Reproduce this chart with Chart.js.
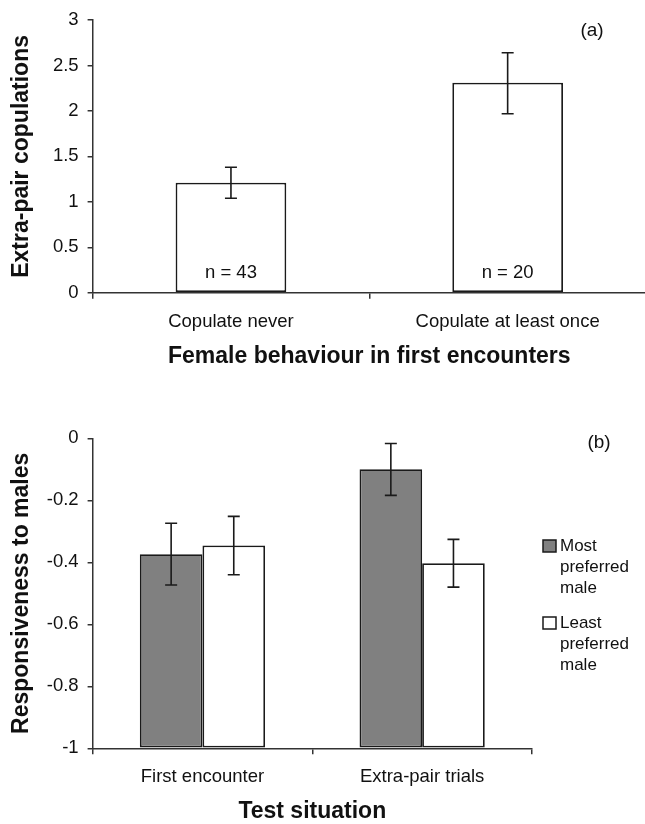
<!DOCTYPE html>
<html>
<head>
<meta charset="utf-8">
<script src="https://cdn.jsdelivr.net/npm/chart.js@4.4.0/dist/chart.umd.min.js"></script>
<style>
  html, body { margin: 0; padding: 0; background: #fff; overflow: hidden; width: 645px; height: 824px; }
  #chartA { position: absolute; left: 0; top: 0; }
  #chartB { position: absolute; left: 0; top: 380px; }
</style>
</head>
<body>
<canvas id="chartA" width="660" height="380"></canvas>
<canvas id="chartB" width="645" height="470"></canvas>
<script>
// panel (a): extra-pair copulations by first-encounter behaviour
const behaviourCats = ['Copulate never', 'Copulate at least once'];
const epcMeans = [1.21, 2.31];
const epcLow = [1.04, 1.97];
const epcHigh = [1.38, 2.64];
const sampleSizes = ['n = 43', 'n = 20'];
const epcTicks = [0, 0.5, 1, 1.5, 2, 2.5, 3];

// panel (b): responsiveness to most / least preferred male
const situationCats = ['First encounter', 'Extra-pair trials'];
const seriesNames = ['Most preferred male', 'Least preferred male'];
const mostMeans = [-0.374, -0.100];
const mostLow = [-0.473, -0.184];
const mostHigh = [-0.274, -0.017];
const leastMeans = [-0.346, -0.403];
const leastLow = [-0.440, -0.480];
const leastHigh = [-0.252, -0.326];
const respTicks = [0, -0.2, -0.4, -0.6, -0.8, -1];

const FONT = 'Liberation Sans, Arial, sans-serif';
const INK = '#111';
const LINE = '#333';

// draws the error bars from errLow / errHigh on each dataset
const errorBars = {
  id: 'errorBars',
  afterDatasetsDraw(chart) {
    const ctx = chart.ctx;
    const y = chart.scales.y;
    chart.data.datasets.forEach((ds, i) => {
      chart.getDatasetMeta(i).data.forEach((bar, j) => {
        const yl = y.getPixelForValue(ds.errLow[j]);
        const yh = y.getPixelForValue(ds.errHigh[j]);
        ctx.save();
        ctx.strokeStyle = '#1a1a1a';
        ctx.lineWidth = 1.6;
        ctx.beginPath();
        ctx.moveTo(bar.x, yl); ctx.lineTo(bar.x, yh);
        ctx.moveTo(bar.x - 6, yl); ctx.lineTo(bar.x + 6, yl);
        ctx.moveTo(bar.x - 6, yh); ctx.lineTo(bar.x + 6, yh);
        ctx.stroke();
        ctx.restore();
      });
    });
  }
};

const panelLabel = {
  id: 'panelLabel',
  afterDraw(chart, args, opts) {
    const ctx = chart.ctx;
    ctx.save();
    ctx.fillStyle = INK;
    ctx.font = '19px ' + FONT;
    ctx.textAlign = 'center';
    ctx.textBaseline = 'middle';
    ctx.fillText(opts.text, opts.x, opts.y);
    ctx.restore();
  }
};

const sampleLabels = {
  id: 'sampleLabels',
  afterDatasetsDraw(chart, args, opts) {
    if (!opts.labels) return;
    const ctx = chart.ctx;
    const base = chart.scales.y.getPixelForValue(0);
    ctx.save();
    ctx.fillStyle = INK;
    ctx.font = '18.5px ' + FONT;
    ctx.textAlign = 'center';
    ctx.textBaseline = 'middle';
    chart.getDatasetMeta(0).data.forEach((bar, j) => {
      ctx.fillText(opts.labels[j], bar.x, base - 20);
    });
    ctx.restore();
  }
};

// legend with one word per line, like the original
const wordLegend = {
  id: 'wordLegend',
  afterDraw(chart, args, opts) {
    if (!opts.show) return;
    const ctx = chart.ctx;
    let top = opts.y;
    ctx.save();
    ctx.font = '17px ' + FONT;
    ctx.textBaseline = 'middle';
    ctx.textAlign = 'left';
    chart.data.datasets.forEach(ds => {
      ctx.fillStyle = ds.backgroundColor;
      ctx.fillRect(opts.x, top, 13, 12);
      ctx.strokeStyle = '#1a1a1a';
      ctx.lineWidth = 1.5;
      ctx.strokeRect(opts.x, top, 13, 12);
      ctx.fillStyle = INK;
      const words = ds.label.split(' ');
      words.forEach((w, k) => {
        ctx.fillText(w, opts.x + 17, top + 6 + k * 21);
      });
      top += words.length * 21 + 14;
    });
    ctx.restore();
  }
};

function scalesFor(xTitle, yTitle, yMin, yMax, yTicks, xHeight, xTitlePad) {
  return {
    x: {
      grid: { drawOnChartArea: false, drawTicks: true, tickLength: 6, color: LINE, lineWidth: 1.5 },
      border: { color: LINE, width: 1.5 },
      ticks: { color: INK, font: { family: FONT, size: 18.5 }, padding: 12, maxRotation: 0 },
      title: { display: true, text: xTitle, color: INK,
               font: { family: FONT, size: 23, weight: 'bold' }, padding: { top: 0, bottom: xTitlePad } },
      afterFit: s => { s.height = xHeight; }
    },
    y: {
      min: yMin, max: yMax,
      afterBuildTicks: s => { s.ticks = yTicks.map(v => ({ value: v })); },
      grid: { drawOnChartArea: false, drawTicks: true, tickLength: 5, color: LINE, lineWidth: 1.5 },
      border: { color: LINE, width: 1.5 },
      ticks: { color: INK, font: { family: FONT, size: 18.5 }, padding: 9, callback: v => String(v) },
      title: { display: true, text: yTitle, color: INK,
               font: { family: FONT, size: 23, weight: 'bold' }, padding: { top: 8, bottom: 0 } },
      afterFit: s => { s.width = 92.6; }
    }
  };
}

new Chart(document.getElementById('chartA'), {
  type: 'bar',
  data: {
    labels: behaviourCats,
    datasets: [{
      label: 'Extra-pair copulations',
      data: epcMeans,
      errLow: epcLow,
      errHigh: epcHigh,
      backgroundColor: '#ffffff',
      borderColor: '#1a1a1a',
      borderWidth: 1.8,
      borderSkipped: false,
      barPercentage: 0.4,
      categoryPercentage: 1
    }]
  },
  options: {
    responsive: false,
    animation: false,
    layout: { padding: { top: 19.3, right: 14, left: 0, bottom: 0 } },
    plugins: {
      legend: { display: false },
      tooltip: { enabled: false },
      panelLabel: { text: '(a)', x: 592, y: 31 },
      sampleLabels: { labels: sampleSizes },
      wordLegend: { show: false }
    },
    scales: scalesFor('Female behaviour in first encounters', 'Extra-pair copulations',
                      0, 3, epcTicks, 380 - 292.7, 10)
  },
  plugins: [errorBars, panelLabel, sampleLabels, wordLegend]
});

new Chart(document.getElementById('chartB'), {
  type: 'bar',
  data: {
    labels: situationCats,
    datasets: [{
      label: seriesNames[0],
      data: mostMeans,
      errLow: mostLow,
      errHigh: mostHigh,
      base: -1,
      backgroundColor: '#808080',
      borderColor: '#1a1a1a',
      borderWidth: 1.8,
      borderSkipped: false,
      barPercentage: 1,
      categoryPercentage: 0.57
    }, {
      label: seriesNames[1],
      data: leastMeans,
      errLow: leastLow,
      errHigh: leastHigh,
      base: -1,
      backgroundColor: '#ffffff',
      borderColor: '#1a1a1a',
      borderWidth: 1.8,
      borderSkipped: false,
      barPercentage: 1,
      categoryPercentage: 0.57
    }]
  },
  options: {
    responsive: false,
    animation: false,
    layout: { padding: { top: 58.3, right: 113, left: 0, bottom: 0 } },
    plugins: {
      legend: { display: false },
      tooltip: { enabled: false },
      panelLabel: { text: '(b)', x: 599, y: 63 },
      sampleLabels: {},
      wordLegend: { show: true, x: 543, y: 160 }
    },
    scales: scalesFor('Test situation', 'Responsiveness to males',
                      -1, 0, respTicks, 470 - 368.3, 24.5)
  },
  plugins: [errorBars, panelLabel, sampleLabels, wordLegend]
});
</script>
</body>
</html>
